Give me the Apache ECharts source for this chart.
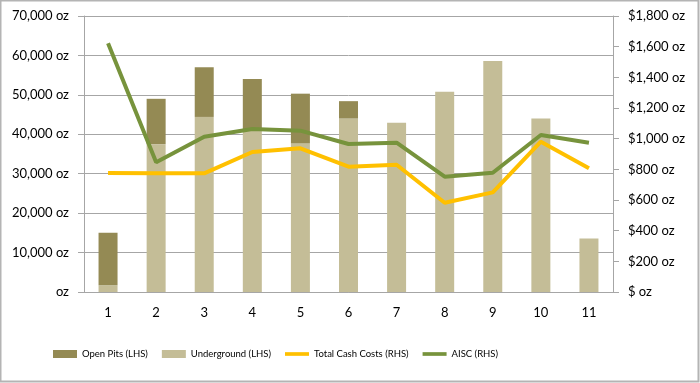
<!DOCTYPE html>
<html><head><meta charset="utf-8">
<script src="https://cdn.jsdelivr.net/npm/echarts@6/dist/echarts.min.js"></script>
<style>html,body{margin:0;padding:0;background:#fff}#c{width:700px;height:383px}</style>
</head><body><div id="c"></div>
<script>
const categories = ['1','2','3','4','5','6','7','8','9','10','11'];
const openPits = [13300, 11500, 12600, 13000, 12600, 4400, 0, 0, 0, 0, 0];
const underground = [1700, 37500, 44400, 41000, 37700, 44000, 42900, 50800, 58600, 44000, 13600];
const totalCashCosts = [776, 774, 774, 913, 937, 817, 830, 582, 650, 980, 807];
const aisc = [1622, 846, 1013, 1063, 1052, 965, 974, 752, 778, 1024, 974];
const leftTicks = {min: 0, max: 70000, interval: 10000};
const rightTicks = {min: 0, max: 1800, interval: 200};

const FONT = 'Lato';
const axisGray = '#A6A6A6';
const lineIcon = 'path://M0,0H26V4H0Z';
const chart = echarts.init(document.getElementById('c'));
chart.setOption({
  animation: false,
  backgroundColor: '#fff',
  graphic: [{type: 'rect', shape: {x: 0.5, y: 0.5, width: 698, height: 381}, style: {fill: 'none', stroke: '#B4B4B4', lineWidth: 2}, silent: true}],
  grid: {left: 84, right: 87, top: 16, bottom: 91},
  legend: {
    left: 48, bottom: 19, itemGap: 14, itemWidth: 24, itemHeight: 8,
    textStyle: {fontFamily: FONT, fontSize: 9.5, color: '#000'},
    data: [
      {name: 'Open Pits (LHS)', icon: 'rect'},
      {name: 'Underground (LHS)', icon: 'rect'},
      {name: 'Total Cash Costs (RHS)', icon: lineIcon},
      {name: 'AISC (RHS)', icon: lineIcon}
    ]
  },
  xAxis: {
    type: 'category', data: categories, boundaryGap: true,
    axisLine: {lineStyle: {color: axisGray, width: 1}},
    axisTick: {length: 5, lineStyle: {color: axisGray}},
    axisLabel: {fontFamily: FONT, fontSize: 13, color: '#000', margin: 14}
  },
  yAxis: [{
    type: 'value', min: leftTicks.min, max: leftTicks.max, interval: leftTicks.interval,
    axisLine: {show: true, lineStyle: {color: axisGray}},
    axisTick: {show: true, length: 6, lineStyle: {color: axisGray}},
    splitLine: {lineStyle: {color: axisGray, width: 1}},
    axisLabel: {fontFamily: FONT, fontSize: 13, color: '#000', margin: 15,
      formatter: v => v === 0 ? 'oz' : v.toLocaleString('en-US') + ' oz'}
  }, {
    type: 'value', position: 'right', min: rightTicks.min, max: rightTicks.max, interval: rightTicks.interval,
    axisLine: {show: true, lineStyle: {color: axisGray}},
    axisTick: {show: true, length: 6, lineStyle: {color: axisGray}},
    splitLine: {show: false},
    axisLabel: {fontFamily: FONT, fontSize: 13, color: '#000', margin: 15,
      formatter: v => '$' + (v === 0 ? ' ' : v.toLocaleString('en-US') + ' ') + 'oz'}
  }],
  series: [
    {name: 'Underground (LHS)', type: 'bar', stack: 'oz', data: underground, barWidth: 19,
      itemStyle: {color: '#C4BD97'}},
    {name: 'Open Pits (LHS)', type: 'bar', stack: 'oz', data: openPits, barWidth: 19,
      itemStyle: {color: '#948A54'}},
    {name: 'Total Cash Costs (RHS)', type: 'line', yAxisIndex: 1, data: totalCashCosts,
      symbol: 'none', lineStyle: {color: '#FFC000', width: 4}, itemStyle: {color: '#FFC000'}},
    {name: 'AISC (RHS)', type: 'line', yAxisIndex: 1, data: aisc,
      symbol: 'none', lineStyle: {color: '#77933C', width: 4}, itemStyle: {color: '#77933C'}}
  ]
});
</script></body></html>
